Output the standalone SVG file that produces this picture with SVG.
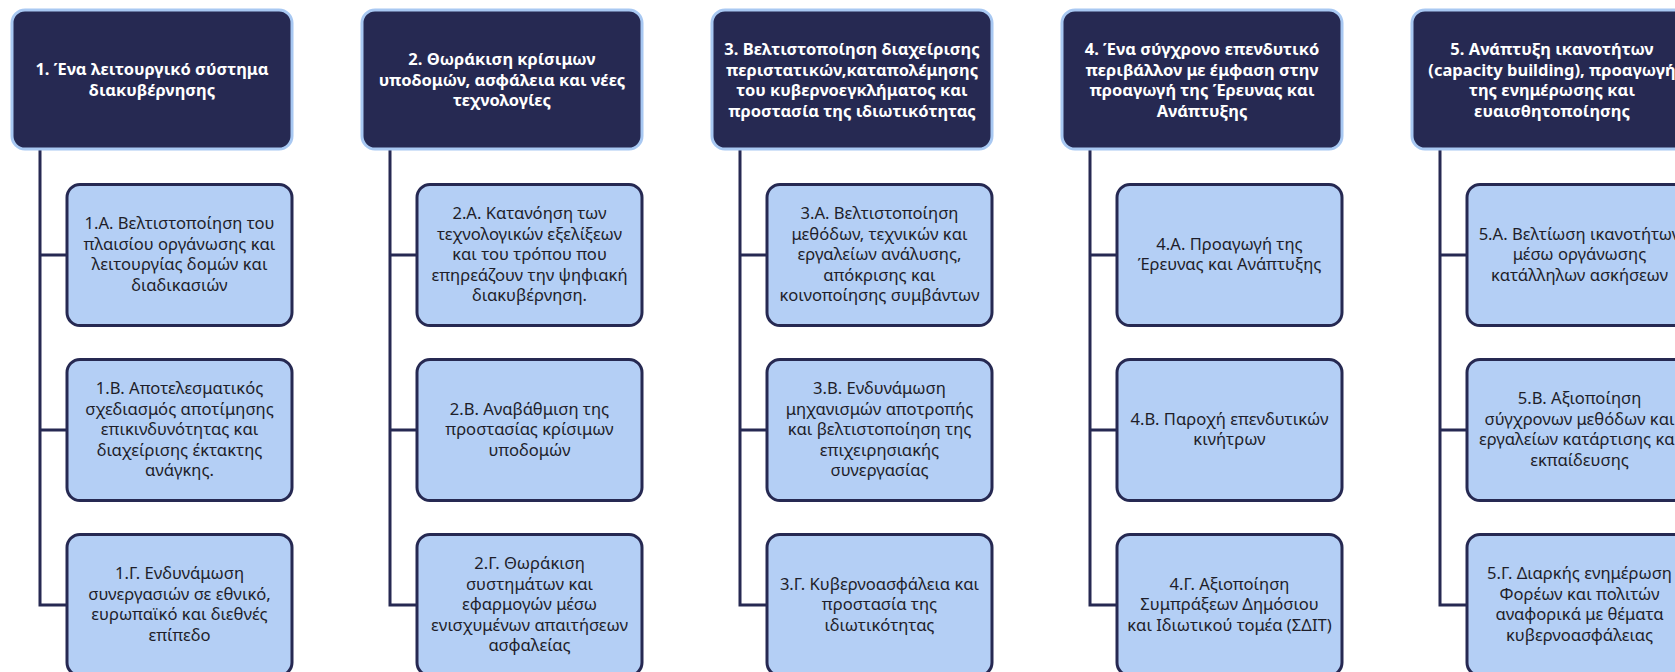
<svg xmlns="http://www.w3.org/2000/svg" width="1675" height="672" viewBox="0 0 1675 672">
<style>
.hd{fill:#262952;stroke:#A8C8F2;stroke-width:3}
.ch{fill:#B4CFF5;stroke:#262952;stroke-width:3}
.cn{fill:none;stroke:#262952;stroke-width:3;stroke-linejoin:miter}
.ht{font-family:"Noto Sans","Open Sans",sans-serif;font-weight:bold;font-size:16.5px;fill:#FFFFFF;text-anchor:middle}
.ct{font-family:"Noto Sans","Open Sans",sans-serif;font-size:16.6px;fill:#1E1E2A;text-anchor:middle}
</style>
<rect width="1675" height="672" fill="#FFFFFF"/>
<g id="connectors">
<path class="cn" d="M40 149 V605 H67 M40 255 H67 M40 430 H67"/>
<path class="cn" d="M390 149 V605 H417 M390 255 H417 M390 430 H417"/>
<path class="cn" d="M740 149 V605 H767 M740 255 H767 M740 430 H767"/>
<path class="cn" d="M1090 149 V605 H1117 M1090 255 H1117 M1090 430 H1117"/>
<path class="cn" d="M1440 149 V605 H1467 M1440 255 H1467 M1440 430 H1467"/>
</g>
<g id="h1"><rect class="hd" x="12" y="10" width="280" height="139" rx="13"/>
<text class="ht"><tspan x="152" y="75">1. Ένα λειτουργικό σύστημα</tspan><tspan x="152" y="95.5">διακυβέρνησης</tspan></text></g>
<g id="h2"><rect class="hd" x="362" y="10" width="280" height="139" rx="13"/>
<text class="ht"><tspan x="502" y="65">2. Θωράκιση κρίσιμων</tspan><tspan x="502" y="85.5">υποδομών, ασφάλεια και νέες</tspan><tspan x="502" y="106">τεχνολογίες</tspan></text></g>
<g id="h3"><rect class="hd" x="712" y="10" width="280" height="139" rx="13"/>
<text class="ht"><tspan x="852" y="55">3. Βελτιστοποίηση διαχείρισης</tspan><tspan x="852" y="75.5">περιστατικών,καταπολέμησης</tspan><tspan x="852" y="96">του κυβερνοεγκλήματος και</tspan><tspan x="852" y="116.5">προστασία της ιδιωτικότητας</tspan></text></g>
<g id="h4"><rect class="hd" x="1062" y="10" width="280" height="139" rx="13"/>
<text class="ht"><tspan x="1202" y="55">4. Ένα σύγχρονο επενδυτικό</tspan><tspan x="1202" y="75.5">περιβάλλον με έμφαση στην</tspan><tspan x="1202" y="96">προαγωγή της Έρευνας και</tspan><tspan x="1202" y="116.5">Ανάπτυξης</tspan></text></g>
<g id="h5"><rect class="hd" x="1412" y="10" width="280" height="139" rx="13"/>
<text class="ht"><tspan x="1552" y="55">5. Ανάπτυξη ικανοτήτων</tspan><tspan x="1552" y="75.5">(capacity building), προαγωγή</tspan><tspan x="1552" y="96">της ενημέρωσης και</tspan><tspan x="1552" y="116.5">ευαισθητοποίησης</tspan></text></g>

<g id="c1a"><rect class="ch" x="67" y="184.5" width="225" height="141" rx="13"/>
<text class="ct"><tspan x="179.5" y="229">1.Α. Βελτιστοποίηση του</tspan><tspan x="179.5" y="249.5">πλαισίου οργάνωσης και</tspan><tspan x="179.5" y="270">λειτουργίας δομών και</tspan><tspan x="179.5" y="290.5">διαδικασιών</tspan></text></g>
<g id="c1b"><rect class="ch" x="67" y="359.5" width="225" height="141" rx="13"/>
<text class="ct"><tspan x="179.5" y="394">1.Β. Αποτελεσματικός</tspan><tspan x="179.5" y="414.5">σχεδιασμός αποτίμησης</tspan><tspan x="179.5" y="435">επικινδυνότητας και</tspan><tspan x="179.5" y="455.5">διαχείρισης έκτακτης</tspan><tspan x="179.5" y="476">ανάγκης.</tspan></text></g>
<g id="c1c"><rect class="ch" x="67" y="534.5" width="225" height="141" rx="13"/>
<text class="ct"><tspan x="179.5" y="579">1.Γ. Ενδυνάμωση</tspan><tspan x="179.5" y="599.5">συνεργασιών σε εθνικό,</tspan><tspan x="179.5" y="620">ευρωπαϊκό και διεθνές</tspan><tspan x="179.5" y="640.5">επίπεδο</tspan></text></g>

<g id="c2a"><rect class="ch" x="417" y="184.5" width="225" height="141" rx="13"/>
<text class="ct"><tspan x="529.5" y="219">2.Α. Κατανόηση των</tspan><tspan x="529.5" y="239.5">τεχνολογικών εξελίξεων</tspan><tspan x="529.5" y="260">και του τρόπου που</tspan><tspan x="529.5" y="280.5">επηρεάζουν την ψηφιακή</tspan><tspan x="529.5" y="301">διακυβέρνηση.</tspan></text></g>
<g id="c2b"><rect class="ch" x="417" y="359.5" width="225" height="141" rx="13"/>
<text class="ct"><tspan x="529.5" y="414.5">2.Β. Αναβάθμιση της</tspan><tspan x="529.5" y="435">προστασίας κρίσιμων</tspan><tspan x="529.5" y="455.5">υποδομών</tspan></text></g>
<g id="c2c"><rect class="ch" x="417" y="534.5" width="225" height="141" rx="13"/>
<text class="ct"><tspan x="529.5" y="569">2.Γ. Θωράκιση</tspan><tspan x="529.5" y="589.5">συστημάτων και</tspan><tspan x="529.5" y="610">εφαρμογών μέσω</tspan><tspan x="529.5" y="630.5">ενισχυμένων απαιτήσεων</tspan><tspan x="529.5" y="651">ασφαλείας</tspan></text></g>

<g id="c3a"><rect class="ch" x="767" y="184.5" width="225" height="141" rx="13"/>
<text class="ct"><tspan x="879.5" y="219">3.Α. Βελτιστοποίηση</tspan><tspan x="879.5" y="239.5">μεθόδων, τεχνικών και</tspan><tspan x="879.5" y="260">εργαλείων ανάλυσης,</tspan><tspan x="879.5" y="280.5">απόκρισης και</tspan><tspan x="879.5" y="301">κοινοποίησης συμβάντων</tspan></text></g>
<g id="c3b"><rect class="ch" x="767" y="359.5" width="225" height="141" rx="13"/>
<text class="ct"><tspan x="879.5" y="394">3.Β. Ενδυνάμωση</tspan><tspan x="879.5" y="414.5">μηχανισμών αποτροπής</tspan><tspan x="879.5" y="435">και βελτιστοποίηση της</tspan><tspan x="879.5" y="455.5">επιχειρησιακής</tspan><tspan x="879.5" y="476">συνεργασίας</tspan></text></g>
<g id="c3c"><rect class="ch" x="767" y="534.5" width="225" height="141" rx="13"/>
<text class="ct"><tspan x="879.5" y="589.5">3.Γ. Κυβερνοασφάλεια και</tspan><tspan x="879.5" y="610">προστασία της</tspan><tspan x="879.5" y="630.5">ιδιωτικότητας</tspan></text></g>

<g id="c4a"><rect class="ch" x="1117" y="184.5" width="225" height="141" rx="13"/>
<text class="ct"><tspan x="1229.5" y="249.5">4.Α. Προαγωγή της</tspan><tspan x="1229.5" y="270">Έρευνας και Ανάπτυξης</tspan></text></g>
<g id="c4b"><rect class="ch" x="1117" y="359.5" width="225" height="141" rx="13"/>
<text class="ct"><tspan x="1229.5" y="424.5">4.Β. Παροχή επενδυτικών</tspan><tspan x="1229.5" y="445">κινήτρων</tspan></text></g>
<g id="c4c"><rect class="ch" x="1117" y="534.5" width="225" height="141" rx="13"/>
<text class="ct"><tspan x="1229.5" y="589.5">4.Γ. Αξιοποίηση</tspan><tspan x="1229.5" y="610">Συμπράξεων Δημόσιου</tspan><tspan x="1229.5" y="630.5">και Ιδιωτικού τομέα (ΣΔΙΤ)</tspan></text></g>

<g id="c5a"><rect class="ch" x="1467" y="184.5" width="225" height="141" rx="13"/>
<text class="ct"><tspan x="1579.5" y="239.5">5.Α. Βελτίωση ικανοτήτων</tspan><tspan x="1579.5" y="260">μέσω οργάνωσης</tspan><tspan x="1579.5" y="280.5">κατάλληλων ασκήσεων</tspan></text></g>
<g id="c5b"><rect class="ch" x="1467" y="359.5" width="225" height="141" rx="13"/>
<text class="ct"><tspan x="1579.5" y="404">5.Β. Αξιοποίηση</tspan><tspan x="1579.5" y="424.5">σύγχρονων μεθόδων και</tspan><tspan x="1579.5" y="445">εργαλείων κατάρτισης και</tspan><tspan x="1579.5" y="465.5">εκπαίδευσης</tspan></text></g>
<g id="c5c"><rect class="ch" x="1467" y="534.5" width="225" height="141" rx="13"/>
<text class="ct"><tspan x="1579.5" y="579">5.Γ. Διαρκής ενημέρωση</tspan><tspan x="1579.5" y="599.5">Φορέων και πολιτών</tspan><tspan x="1579.5" y="620">αναφορικά με θέματα</tspan><tspan x="1579.5" y="640.5">κυβερνοασφάλειας</tspan></text></g>
</svg>
